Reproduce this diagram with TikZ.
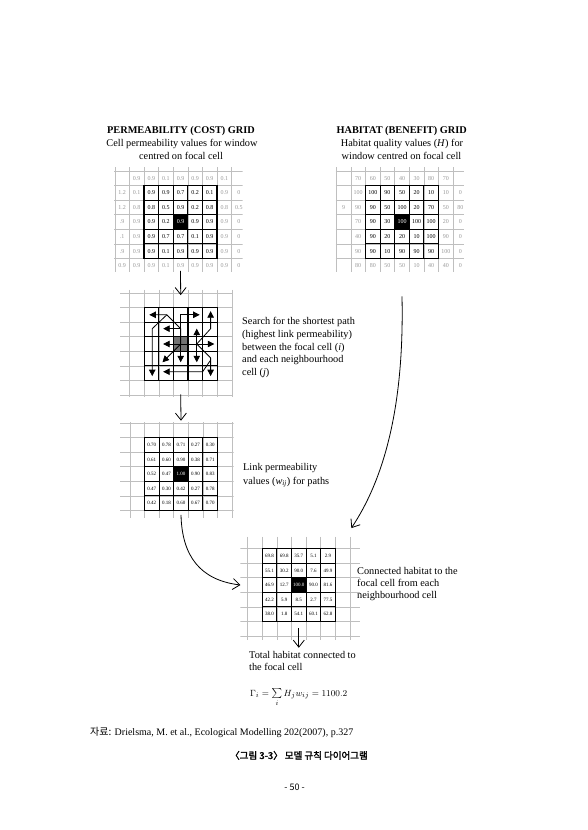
\documentclass[tikz,border=0pt]{standalone}
\usepackage{fontspec}
\setmainfont{Liberation Serif}
\newfontfamily\kr{Noto Sans CJK KR}
\newfontfamily\krb[FakeBold=2]{Noto Sans CJK KR}
\usetikzlibrary{arrows.meta}
\tikzset{
  faint/.style={draw=black!25, line width=0.5pt},
  gridline/.style={draw=black, line width=1.15pt, line cap=rect},
  inv/.style={inner sep=0pt, font=\fontsize{6}{6}\selectfont, text=black},
  outv/.style={inner sep=0pt, font=\fontsize{6}{6}\selectfont, text=black!40},
  smallv/.style={inner sep=0pt, font=\fontsize{5}{5}\selectfont, text=black},
  body/.style={inner sep=0pt, anchor=base west, font=\fontsize{10.3}{12}\selectfont},
  title/.style={inner sep=0pt, anchor=base, font=\fontsize{10.3}{12}\selectfont},
  conn/.style={line width=0.8pt, -{Straight Barb[length=7pt,width=11pt,line width=0.8pt]}},
  sarrow/.style={line width=0.8pt, line join=round, -{Triangle[length=6.5pt,width=6.5pt]}},
}
\newcommand\mkfaint[4]{%
  \begin{scope}
    \clip (#1,#2) rectangle (#3,#4);
    \foreach \k in {-3,...,9}{\draw[faint] (\k,#2) -- (\k,#4); \draw[faint] (#1,\k) -- (#3,\k);}
  \end{scope}}
\newcommand\mkgrid{\foreach \k in {0,...,5}{\draw[gridline] (\k,0) -- (\k,5); \draw[gridline] (0,\k) -- (5,\k);}}
\newcommand\rowv[5]{%
  \foreach \v [count=\c from #3] in {#5} {\node[#4] (#1r#2c\c) at ({\c+0.5},{#2+0.5}) {\v};}}
\begin{document}
\begin{tikzpicture}[x=1pt,y=-1pt]
\useasboundingbox (0,0) rectangle (587,830);
\fill[white] (0,0) rectangle (587,830);

% ---------- titles ----------
\node[title, font=\fontsize{10.3}{12}\selectfont\bfseries] (t1a) at (181,133.5) {PERMEABILITY (COST) GRID};
\node[title] (t1b) at (182,146) {Cell permeability values for window};
\node[title] (t1c) at (181,159) {centred on focal cell};
\node[title, font=\fontsize{10.3}{12}\selectfont\bfseries] (t2a) at (401.7,133.5) {HABITAT (BENEFIT) GRID};
\node[title] (t2b) at (402,146) {Habitat quality values (\textit{H}) for};
\node[title] (t2c) at (401.5,159) {window centred on focal cell};

% ---------- permeability grid ----------
\begin{scope}[shift={(144,185.5)}, x=14.6pt, y=-14.6pt]
  \mkfaint{-2.05}{-1.25}{6.75}{5.95}
  \fill[black] (2,2) rectangle (3,3);
  \mkgrid
  \rowv{a}{-1}{-1}{outv}{0.9,0.9,0.1,0.9,0.9,0.9,0.1}
  \rowv{a}{0}{-2}{outv}{1.2,0.1}
  \rowv{a}{0}{0}{inv}{0.9,0.9,0.7,0.2,0.1}
  \rowv{a}{0}{5}{outv}{0.9,0}
  \rowv{a}{1}{-2}{outv}{1.2,0.8}
  \rowv{a}{1}{0}{inv}{0.8,0.5,0.9,0.2,0.8}
  \rowv{a}{1}{5}{outv}{0.8,0.5}
  \rowv{a}{2}{-2}{outv}{.9,0.9}
  \rowv{a}{2}{0}{inv}{0.9,0.2}
  \rowv{a}{2}{2}{inv,text=white}{0.9}
  \rowv{a}{2}{3}{inv}{0.9,0.9}
  \rowv{a}{2}{5}{outv}{0.9,0}
  \rowv{a}{3}{-2}{outv}{.1,0.9}
  \rowv{a}{3}{0}{inv}{0.9,0.7,0.7,0.1,0.9}
  \rowv{a}{3}{5}{outv}{0.9,0}
  \rowv{a}{4}{-2}{outv}{.9,0.9}
  \rowv{a}{4}{0}{inv}{0.9,0.1,0.9,0.9,0.9}
  \rowv{a}{4}{5}{outv}{0.9,0}
  \rowv{a}{5}{-2}{outv}{0.9,0.9,0.9,0.1,0.9,0.9,0.9,0.9,0}
  \coordinate (g1s) at (2.5,5.85);
\end{scope}

% ---------- habitat grid ----------
\begin{scope}[shift={(365.5,185.5)}, x=14.6pt, y=-14.6pt]
  \mkfaint{-2.05}{-1.25}{6.75}{5.95}
  \fill[black] (2,2) rectangle (3,3);
  \mkgrid
  \rowv{b}{-1}{-1}{outv}{70,60,50,40,30,80,70}
  \rowv{b}{0}{-1}{outv}{100}
  \rowv{b}{0}{0}{inv}{100,90,50,20,10}
  \rowv{b}{0}{5}{outv}{10,0}
  \rowv{b}{1}{-2}{outv}{9,90}
  \rowv{b}{1}{0}{inv}{90,50,100,20,70}
  \rowv{b}{1}{5}{outv}{50,80}
  \rowv{b}{2}{-1}{outv}{70}
  \rowv{b}{2}{0}{inv}{90,30}
  \rowv{b}{2}{2}{inv,text=white}{100}
  \rowv{b}{2}{3}{inv}{100,100}
  \rowv{b}{2}{5}{outv}{20,0}
  \rowv{b}{3}{-1}{outv}{40}
  \rowv{b}{3}{0}{inv}{90,20,20,10,100}
  \rowv{b}{3}{5}{outv}{90,0}
  \rowv{b}{4}{-1}{outv}{90}
  \rowv{b}{4}{0}{inv}{90,10,90,90,90}
  \rowv{b}{4}{5}{outv}{100,0}
  \rowv{b}{5}{-1}{outv}{80,80,50,50,10,40,40,0}
  \coordinate (g2s) at (2.5,7.6);
\end{scope}

% ---------- search grid ----------
\begin{scope}[shift={(144.2,307.5)}, x=14.6pt, y=-14.6pt]
  \mkfaint{-1.65}{-1.2}{6.1}{6.1}
  \fill[black!55] (2,2) rectangle (3,3);
  \mkgrid
  \coordinate (F) at (2.5,2.5);
  \coordinate (P1) at (2.5,1.45);
  \coordinate (P2) at (1.55,0.5);
  \coordinate (P3) at (0.55,1.45);
  \coordinate (P4) at (2.5,0.5);
  \coordinate (P5) at (3.6,2.5);
  \coordinate (P6) at (4.55,1.45);
  \coordinate (P7) at (4.55,3.45);
  \coordinate (P8) at (4.55,3.6);
  \coordinate (P9) at (4.0,4.4);
  \coordinate (T1) at (0.35,0.5);
  \coordinate (T2) at (0.55,4.7);
  \coordinate (T3) at (3.8,0.5);
  \coordinate (T4) at (1.3,1.45);
  \coordinate (T5) at (4.55,0.25);
  \coordinate (T6) at (1.3,2.5);
  \coordinate (T7) at (4.8,2.5);
  \coordinate (T8) at (3.6,1.45);
  \coordinate (T9) at (3.6,3.75);
  \coordinate (T10) at (2.5,3.75);
  \coordinate (T11) at (1.25,3.75);
  \coordinate (T12) at (4.55,4.7);
  \coordinate (T13) at (1.3,4.4);
  \draw[sarrow] (F) -- (P1) -- (P2) -- (T1);
  \draw[sarrow] (P2) -- (P3) -- (T2);
  \draw[sarrow] (F) -- (P4) -- (T3);
  \draw[sarrow] (P1) -- (T4);
  \draw[sarrow] (P5) -- (P6) -- (T5);
  \draw[sarrow] (F) -- (T6);
  \draw[sarrow] (F) -- (T7);
  \draw[sarrow] (P5) -- (T8);
  \draw[sarrow] (P5) -- (T9);
  \draw[sarrow] (F) -- (T10);
  \draw[sarrow] (F) -- (T11);
  \draw[sarrow] (P5) -- (P7) -- (T12);
  \draw[sarrow] (P8) -- (P9) -- (T13);
  \coordinate (g3n) at (2.5,-0.85);
  \coordinate (g3s) at (2.5,5.95);
\end{scope}

% ---------- link permeability grid ----------
\begin{scope}[shift={(144.5,437.5)}, x=14.6pt, y=-14.6pt]
  \mkfaint{-1.67}{-1.05}{6.1}{5.5}
  \fill[black] (2,2) rectangle (3,3);
  \mkgrid
  \rowv{c}{0}{0}{smallv}{0.70,0.78,0.71,0.27,0.30}
  \rowv{c}{1}{0}{smallv}{0.61,0.60,0.90,0.38,0.71}
  \rowv{c}{2}{0}{smallv}{0.52,0.47}
  \rowv{c}{2}{2}{smallv,text=white}{1.00}
  \rowv{c}{2}{3}{smallv}{0.90,0.83}
  \rowv{c}{3}{0}{smallv}{0.47,0.30,0.42,0.27,0.78}
  \rowv{c}{4}{0}{smallv}{0.42,0.18,0.60,0.67,0.70}
  \coordinate (g4n) at (2.5,-1.15);
  \coordinate (g4s) at (2.5,5.3);
\end{scope}

% ---------- connected habitat grid ----------
\begin{scope}[shift={(262.3,548.5)}, x=14.6pt, y=-14.6pt]
  \mkfaint{-1.5}{-0.8}{6.7}{6.3}
  \fill[black] (2,2) rectangle (3,3);
  \mkgrid
  \rowv{d}{0}{0}{smallv}{69.8,69.8,35.7,5.1,2.9}
  \rowv{d}{1}{0}{smallv}{55.1,30.2,90.0,7.6,49.9}
  \rowv{d}{2}{0}{smallv}{46.9,12.7}
  \rowv{d}{2}{2}{smallv,text=white}{100.0}
  \rowv{d}{2}{3}{smallv}{90.0,81.6}
  \rowv{d}{3}{0}{smallv}{42.2,5.9,8.5,2.7,77.5}
  \rowv{d}{4}{0}{smallv}{38.0,1.8,54.1,60.1,62.8}
  \coordinate (g5w) at (-1.5,2.5);
  \coordinate (g5ne) at (6.1,-1.4);
  \coordinate (g5s) at (2.5,5.45);
  \coordinate (g5b) at (2.5,6.8);
\end{scope}

% ---------- connectors ----------
\draw[conn] (g1s) -- (g3n);
\draw[conn] (g3s) -- (g4n);
\draw[conn] (g4s) .. controls (182,556) and (200,580) .. (g5w);
\draw[conn] (g2s) .. controls (404,390) and (390,470) .. (g5ne);
\draw[conn] (g5s) -- (g5b);

% ---------- side texts ----------
\node[body] (s1) at (242,324.5) {Search for the shortest path};
\node[body] (s2) at (242,337.3) {(highest link permeability)};
\node[body] (s3) at (242,350.1) {between the focal cell (\textit{i})};
\node[body] (s4) at (242,362.9) {and each neighbourhood};
\node[body] (s5) at (242,375.7) {cell (\textit{j})};

\node[body] (l1) at (243,470.5) {Link permeability};
\node[body] (l2) at (243,484) {values (\textit{w}\textsubscript{\textit{ij}}) for paths};

\node[body] (c1) at (357,574.5) {Connected habitat to the};
\node[body] (c2) at (357,586.5) {focal cell from each};
\node[body] (c3) at (357,598.5) {neighbourhood cell};

\node[body] (h1) at (249,658.5) {Total habitat connected to};
\node[body] (h2) at (249,670.5) {the focal cell};
\node[body, font=\fontsize{9.5}{11}\selectfont] (fm) at (250,696) {$\Gamma_i = \sum\limits_{i} H_j w_{ij} = 1100.2$};

% ---------- caption ----------
\node[body, font=\fontsize{10}{12}\selectfont] (src) at (90,735) {{\kr 자료:} Drielsma, M. et al., Ecological Modelling 202(2007), p.327};
\node[title, font=\fontsize{9.5}{12}\selectfont] (cap) at (299,759) {\krb 〈그림 3-3〉 모델 규칙 다이어그램};
\node[title, font=\fontsize{9}{12}\selectfont] (pg) at (294.5,790) {\kr - 50 -};
\end{tikzpicture}
\end{document}
